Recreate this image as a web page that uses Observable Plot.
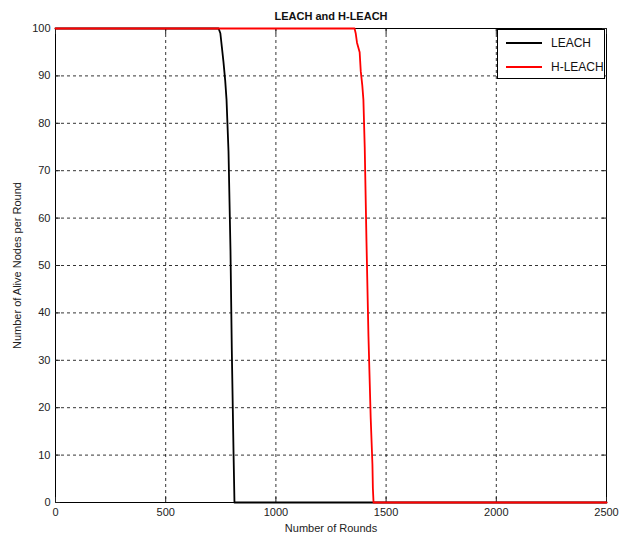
<!DOCTYPE html>
<html><head><meta charset="utf-8">
<script src="https://cdn.jsdelivr.net/npm/d3@7"></script>
<script src="https://cdn.jsdelivr.net/npm/@observablehq/plot@0.6"></script>
<style>
body{margin:0;background:#fff;}
#wrap{position:relative;width:624px;height:535px;font-family:"Liberation Sans",Arial,sans-serif;}
#legend{position:absolute;left:497px;top:29px;width:108px;height:50px;background:#fff;border:1px solid #000;box-sizing:border-box;font-size:12px;color:#111;}
.row{position:absolute;left:8px;display:flex;align-items:center;}
.sw{width:36px;height:0;border-top:2px solid;margin-right:9px;}
</style>
</head><body>
<div id="wrap"></div>
<script>
const xTicks = [0, 500, 1000, 1500, 2000, 2500];
const yTicks = [0, 10, 20, 30, 40, 50, 60, 70, 80, 90, 100];
const leachRounds = [0, 740, 748, 755, 762, 770, 776, 785, 794, 800, 808, 810, 812, 2500];
const leachAlive  = [100, 100, 99, 96, 93, 89, 85, 74, 53, 32, 10, 5, 0, 0];
const hleachRounds = [0, 1357, 1362, 1368, 1380, 1385, 1392, 1397, 1403, 1411, 1420, 1430, 1438, 1440, 1443, 2500];
const hleachAlive  = [100, 100, 99, 97, 95, 91, 88, 85, 75, 55, 35, 18, 8, 3, 0, 0];
const seriesNames = ["LEACH", "H-LEACH"];
const seriesColors = ["#000000", "#ff0000"];

const leach = leachRounds.map((r, i) => ({round: r, alive: leachAlive[i]}));
const hleach = hleachRounds.map((r, i) => ({round: r, alive: hleachAlive[i]}));

const chart = Plot.plot({
  width: 624, height: 535,
  marginLeft: 55, marginRight: 18, marginTop: 28, marginBottom: 33,
  style: {fontFamily: "Liberation Sans, Arial, sans-serif", fontSize: "11px", color: "#222", background: "#fff"},
  x: {domain: [0, 2500]},
  y: {domain: [0, 100]},
  marks: [
    Plot.gridX(xTicks, {stroke: "#000", strokeOpacity: 1, strokeDasharray: "3,3", strokeWidth: 0.8}),
    Plot.gridY(yTicks, {stroke: "#000", strokeOpacity: 1, strokeDasharray: "3,3", strokeWidth: 0.8}),
    Plot.frame({stroke: "#000"}),
    Plot.axisX(xTicks, {anchor: "bottom", tickSize: -5, tickPadding: 11, tickFormat: d3.format("d"), label: "Number of Rounds", labelAnchor: "center", labelArrow: "none", labelOffset: 29, fontSize: 11}),
    Plot.axisX(xTicks, {anchor: "top", tickSize: -5, tickFormat: () => "", label: null}),
    Plot.axisY(yTicks, {anchor: "left", tickSize: -5, tickPadding: 10, tickFormat: d3.format("d"), label: "Number of Alive Nodes per Round", labelAnchor: "center", labelArrow: "none", labelOffset: 42, fontSize: 11}),
    Plot.axisY(yTicks, {anchor: "right", tickSize: -5, tickFormat: () => "", label: null}),
    Plot.line(leach, {x: "round", y: "alive", stroke: seriesColors[0], strokeWidth: 1.8}),
    Plot.line(hleach, {x: "round", y: "alive", stroke: seriesColors[1], strokeWidth: 1.8}),
    Plot.text(["LEACH and H-LEACH"], {frameAnchor: "top", dy: -16, fontWeight: "bold", fontSize: 11, fill: "#111"})
  ]
});
const wrap = document.getElementById("wrap");
wrap.appendChild(chart);
const lg = document.createElement("div");
lg.id = "legend";
seriesNames.forEach((n, i) => {
  const r = document.createElement("div");
  r.className = "row";
  r.style.top = (i === 0 ? 6 : 30) + "px";
  r.innerHTML = `<span class="sw" style="border-color:${seriesColors[i]}"></span><span>${n}</span>`;
  lg.appendChild(r);
});
wrap.appendChild(lg);
</script>
</body></html>
